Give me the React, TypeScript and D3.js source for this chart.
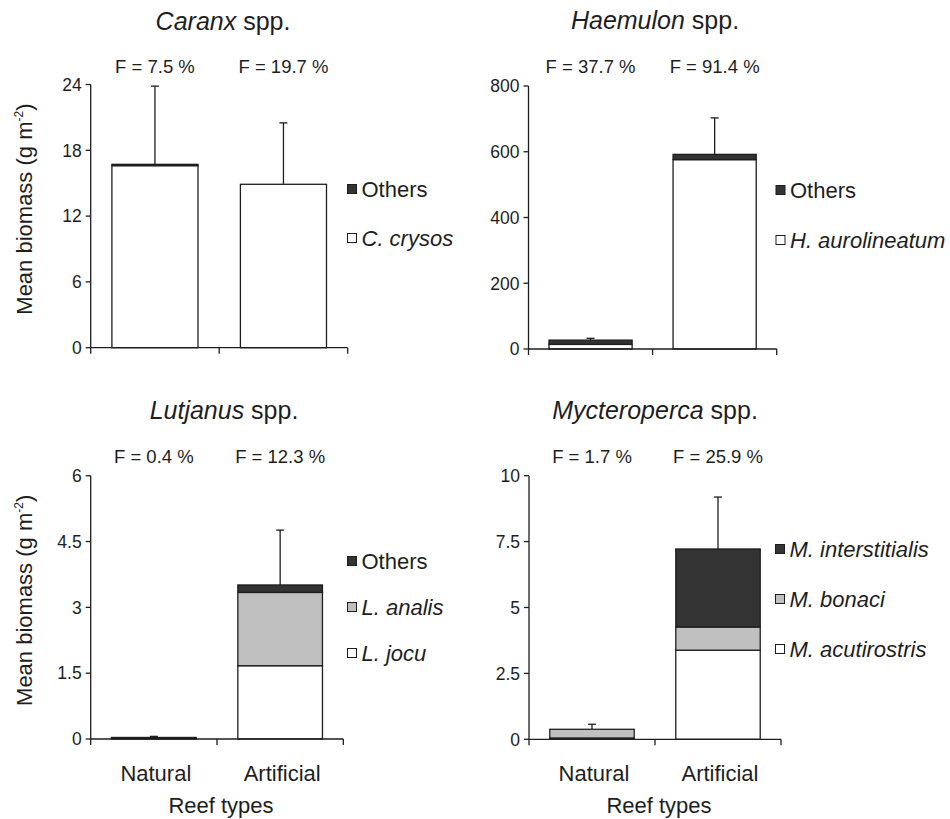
import React from "react";
import * as d3 from "d3";

// Reef categories shared by every panel
const categories = ["Natural", "Artificial"];

// Caranx spp.
const caranxSeries = ["C. crysos", "Others"];
const caranxCrysos = [16.6, 14.9];
const caranxOthers = [0.12, 0];
const caranxErrTop = [23.85, 20.5];
const caranxTicks = [0, 6, 12, 18, 24];
const caranxFreq = ["F = 7.5 %", "F = 19.7 %"];

// Haemulon spp.
const haemulonSeries = ["H. aurolineatum", "Others"];
const haemulonAuro = [14, 576];
const haemulonOthers = [13, 16];
const haemulonErrTop = [32.5, 703];
const haemulonTicks = [0, 200, 400, 600, 800];
const haemulonFreq = ["F = 37.7 %", "F = 91.4 %"];

// Lutjanus spp.
const lutjanusSeries = ["L. jocu", "L. analis", "Others"];
const lutjanusJocu = [0.01, 1.67];
const lutjanusAnalis = [0.005, 1.67];
const lutjanusOthers = [0.02, 0.17];
const lutjanusErrTop = [0.06, 4.76];
const lutjanusTicks = [0, 1.5, 3, 4.5, 6];
const lutjanusFreq = ["F = 0.4 %", "F = 12.3 %"];

// Mycteroperca spp.
const mycteropercaSeries = ["M. acutirostris", "M. bonaci", "M. interstitialis"];
const mycteropercaAcuti = [0.05, 3.38];
const mycteropercaBonaci = [0.33, 0.88];
const mycteropercaInter = [0, 2.96];
const mycteropercaErrTop = [0.57, 9.19];
const mycteropercaTicks = [0, 2.5, 5, 7.5, 10];
const mycteropercaFreq = ["F = 1.7 %", "F = 25.9 %"];

const FONT = "'Liberation Sans', Arial, Helvetica, sans-serif";
const INK = "#1e1e1e";
const DARK = "#333333";
const GRAY = "#c0c0c0";
const WHITE = "#ffffff";

type PanelProps = {
  genus: string;
  series: string[];
  values: number[][];
  fills: string[];
  errTop: number[];
  ticks: number[];
  freq: string[];
  x0: number;
  x1: number;
  yTop: number;
  yBottom: number;
  titleX: number;
  titleY: number;
  freqY: number;
  legendX: number;
  legendY: number[];
  showYLabel: boolean;
  showXLabels: boolean;
};

function Panel(p: PanelProps) {
  const domainMax = p.ticks[p.ticks.length - 1];
  const y = d3.scaleLinear().domain([0, domainMax]).range([p.yBottom, p.yTop]);
  const x = d3.scaleBand<string>().domain(categories).range([p.x0, p.x1]).paddingInner(0).paddingOuter(0);
  const barW = x.bandwidth() * 0.67;

  // stacked layers per category
  const rows = categories.map((c, i) => {
    const r: any = { cat: c };
    p.series.forEach((s, k) => (r[s] = p.values[k][i]));
    return r;
  });
  const stacked = d3.stack<any>().keys(p.series)(rows);

  const mid = (p.yTop + p.yBottom) / 2;
  const legendOrder = p.series.map((s, k) => ({ s, k })).reverse();

  return (
    <g>
      {/* title */}
      <text x={p.titleX} y={p.titleY} textAnchor="middle" fontSize={25} fill={INK} fontFamily={FONT}>
        <tspan fontStyle="italic">{p.genus}</tspan>
        <tspan> spp.</tspan>
      </text>

      {/* frequency labels */}
      {categories.map((c, i) => (
        <text key={c} x={(x(c) as number) + x.bandwidth() / 2} y={p.freqY} textAnchor="middle" fontSize={18.5} fill={INK} fontFamily={FONT}>
          {p.freq[i]}
        </text>
      ))}

      {/* bars */}
      {stacked.map((layer, k) =>
        layer.map((d, i) => {
          const cx = (x(categories[i]) as number) + x.bandwidth() / 2;
          const h = y(d[0]) - y(d[1]);
          if (h <= 0) return null;
          return (
            <rect
              key={`${k}-${i}`}
              x={cx - barW / 2}
              y={y(d[1])}
              width={barW}
              height={h}
              fill={p.fills[k]}
              stroke={INK}
              strokeWidth={1.3}
            />
          );
        })
      )}

      {/* error bars (upper only) */}
      {categories.map((c, i) => {
        const cx = (x(c) as number) + x.bandwidth() / 2;
        const top = d3.sum(p.values.map((v) => v[i]));
        return (
          <g key={c} stroke={INK} strokeWidth={1.3}>
            <line x1={cx} x2={cx} y1={y(top)} y2={y(p.errTop[i])} />
            <line x1={cx - 4} x2={cx + 4} y1={y(p.errTop[i])} y2={y(p.errTop[i])} />
          </g>
        );
      })}

      {/* y axis */}
      <line x1={p.x0} x2={p.x0} y1={p.yTop} y2={p.yBottom} stroke={INK} strokeWidth={1.3} />
      {p.ticks.map((t) => (
        <g key={t}>
          <line x1={p.x0 - 5} x2={p.x0} y1={y(t)} y2={y(t)} stroke={INK} strokeWidth={1.3} />
          <text x={p.x0 - 9} y={y(t)} dy="0.36em" textAnchor="end" fontSize={17.5} fill={INK} fontFamily={FONT}>
            {String(t)}
          </text>
        </g>
      ))}

      {/* x axis */}
      <line x1={p.x0} x2={p.x1} y1={p.yBottom} y2={p.yBottom} stroke={INK} strokeWidth={1.3} />
      {[p.x0, (p.x0 + p.x1) / 2, p.x1].map((tx, i) => (
        <line key={i} x1={tx} x2={tx} y1={p.yBottom} y2={p.yBottom + 6} stroke={INK} strokeWidth={1.3} />
      ))}

      {p.showXLabels &&
        categories.map((c) => (
          <text key={c} x={(x(c) as number) + x.bandwidth() / 2 + 2} y={p.yBottom + 42} textAnchor="middle" fontSize={22} fill={INK} fontFamily={FONT}>
            {c}
          </text>
        ))}
      {p.showXLabels && (
        <text x={(p.x0 + p.x1) / 2 + 4} y={p.yBottom + 74} textAnchor="middle" fontSize={22} fill={INK} fontFamily={FONT}>
          Reef types
        </text>
      )}

      {p.showYLabel && (
        <text
          transform={`translate(31.5, ${mid - 7}) rotate(-90)`}
          textAnchor="middle"
          fontSize={22}
          fill={INK}
          fontFamily={FONT}
        >
          Mean biomass (g m
          <tspan fontSize={12} dy={-9}>-2</tspan>
          <tspan dy={9}>)</tspan>
        </text>
      )}

      {/* legend */}
      {legendOrder.map(({ s, k }, j) => (
        <g key={s}>
          <rect x={p.legendX} y={p.legendY[j] - 4.5} width={9} height={9} fill={p.fills[k]} stroke={INK} strokeWidth={1} />
          <text
            x={p.legendX + 14}
            y={p.legendY[j] + 8}
            fontSize={22}
            fill={INK}
            fontFamily={FONT}
            fontStyle={s === "Others" ? "normal" : "italic"}
          >
            {s}
          </text>
        </g>
      ))}
    </g>
  );
}

export default function App() {
  return (
    <div style={{ position: "absolute", left: 0, top: 0 }}>
      <svg width={950} height={819} viewBox="0 0 950 819" style={{ display: "block", background: "#fff" }}>
        <rect width={950} height={819} fill="#fff" />
        <Panel
          genus="Caranx"
          series={caranxSeries}
          values={[caranxCrysos, caranxOthers]}
          fills={[WHITE, DARK]}
          errTop={caranxErrTop}
          ticks={caranxTicks}
          freq={caranxFreq}
          x0={90.7}
          x1={347.7}
          yTop={84.5}
          yBottom={347.7}
          titleX={223}
          titleY={29.5}
          freqY={72.7}
          legendX={347.5}
          legendY={[189, 238]}
          showYLabel={true}
          showXLabels={false}
        />
        <Panel
          genus="Haemulon"
          series={haemulonSeries}
          values={[haemulonAuro, haemulonOthers]}
          fills={[WHITE, DARK]}
          errTop={haemulonErrTop}
          ticks={haemulonTicks}
          freq={haemulonFreq}
          x0={528.5}
          x1={776.7}
          yTop={86}
          yBottom={349}
          titleX={655}
          titleY={28.5}
          freqY={72.7}
          legendX={776}
          legendY={[190, 240]}
          showYLabel={false}
          showXLabels={false}
        />
        <Panel
          genus="Lutjanus"
          series={lutjanusSeries}
          values={[lutjanusJocu, lutjanusAnalis, lutjanusOthers]}
          fills={[WHITE, GRAY, DARK]}
          errTop={lutjanusErrTop}
          ticks={lutjanusTicks}
          freq={lutjanusFreq}
          x0={90.7}
          x1={343.3}
          yTop={475.7}
          yBottom={739}
          titleX={224}
          titleY={419.3}
          freqY={463.3}
          legendX={347.5}
          legendY={[561, 607, 653]}
          showYLabel={true}
          showXLabels={true}
        />
        <Panel
          genus="Mycteroperca"
          series={mycteropercaSeries}
          values={[mycteropercaAcuti, mycteropercaBonaci, mycteropercaInter]}
          fills={[WHITE, GRAY, DARK]}
          errTop={mycteropercaErrTop}
          ticks={mycteropercaTicks}
          freq={mycteropercaFreq}
          x0={529}
          x1={781}
          yTop={475.7}
          yBottom={739.3}
          titleX={655}
          titleY={419.3}
          freqY={463.3}
          legendX={775.5}
          legendY={[549, 599, 649]}
          showYLabel={false}
          showXLabels={true}
        />
      </svg>
    </div>
  );
}
